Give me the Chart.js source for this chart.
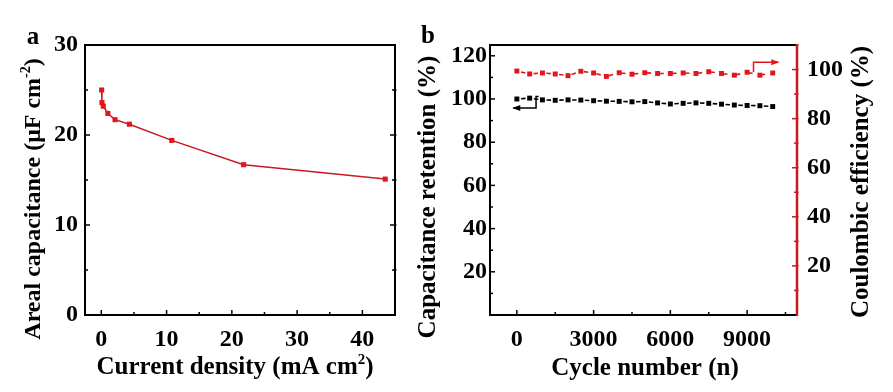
<!DOCTYPE html>
<html>
<head>
<meta charset="utf-8">
<script src="https://cdn.jsdelivr.net/npm/chart.js@4.4.0/dist/chart.umd.min.js"></script>
<style>
  html, body { margin: 0; padding: 0; background: #fff; }
  #wrap { position: relative; width: 893px; height: 392px; overflow: hidden; }
  #ca { position: absolute; left: 0; top: 0; }
  #cb { position: absolute; left: 410px; top: 0; }
</style>
</head>
<body>
<div id="wrap">
  <canvas id="ca" width="410" height="392"></canvas>
  <canvas id="cb" width="483" height="392"></canvas>
</div>
<script>
// panel a: rate capability
const currentDensity = [0.05, 0.1, 0.3, 1.0, 2.1, 4.3, 10.8, 21.8, 43.5];
const arealCap = [25.0, 23.6, 23.2, 22.4, 21.7, 21.2, 19.4, 16.7, 15.1];
const ticksAx = [0, 10, 20, 30, 40];
const ticksAy = [0, 10, 20, 30];

// panel b: cycling
const cycles = [0, 500, 1000, 1500, 2000, 2500, 3000, 3500, 4000, 4500, 5000,
                5500, 6000, 6500, 7000, 7500, 8000, 8500, 9000, 9500, 10000];
const retention = [100, 100.4, 99.6, 99.4, 99.6, 99.5, 99.2, 99.0, 98.9, 98.7, 98.8,
                   98.2, 97.7, 98.0, 98.2, 98.0, 97.6, 97.2, 97.0, 96.9, 96.5];
const coulombic = [99.4, 98.2, 98.6, 98.2, 97.5, 99.3, 98.6, 97.2, 98.7, 98.1, 98.7,
                   98.4, 98.4, 98.6, 98.4, 99.1, 98.4, 97.7, 98.9, 97.7, 98.6];
const ticksBx = [0, 3000, 6000, 9000];
const ticksBy = [20, 40, 60, 80, 100, 120];
const ticksBy2 = [20, 40, 60, 80, 100];

const RED = '#e0161e';
const DARKRED = '#c81a22';
const FONT = '"Liberation Serif", "Times New Roman", serif';

// minor ticks half way between majors, one step past each end
function minors(major, min, max) {
    const step = major[1] - major[0];
    const out = [];
    for (let v = major[0] - step / 2; v <= major[major.length - 1] + step / 2 + 1e-9; v += step) {
        if (v >= min - 1e-9 && v <= max + 1e-9) out.push(v);
    }
    return out;
}

function drawRich(ctx, parts, x, y, rot, size) {
    ctx.save();
    ctx.translate(x, y);
    ctx.rotate(rot);
    const big = `bold ${size}px ${FONT}`;
    const small = `bold ${Math.round(size * 0.6)}px ${FONT}`;
    let w = 0;
    parts.forEach(p => { ctx.font = p.sup ? small : big; p.w = ctx.measureText(p.t).width; w += p.w; });
    let cx = -w / 2;
    ctx.textBaseline = 'middle';
    ctx.fillStyle = '#000';
    parts.forEach(p => {
        ctx.font = p.sup ? small : big;
        ctx.fillText(p.t, cx, p.sup ? -size * 0.32 : 0);
        cx += p.w;
    });
    ctx.restore();
}

const frame = {
    id: 'frame',
    afterDraw(chart, args, opts) {
        const { ctx, chartArea: a } = chart;
        ctx.save();
        // tick marks, pointing into the plot
        opts.marks.forEach(m => {
            const s = chart.scales[m.axis];
            ctx.strokeStyle = m.color || '#000';
            ctx.lineWidth = 1.5;
            [[m.major, 5], [m.minor, 3]].forEach(([vals, len]) => {
                vals.forEach(v => {
                    const p = s.getPixelForValue(v);
                    ctx.beginPath();
                    if (m.side === 'bottom') { ctx.moveTo(p, a.bottom); ctx.lineTo(p, a.bottom - len); }
                    else if (m.side === 'left') { ctx.moveTo(a.left, p); ctx.lineTo(a.left + len, p); }
                    else { ctx.moveTo(a.right + 1.5, p); ctx.lineTo(a.right - len, p); }
                    ctx.stroke();
                });
            });
        });
        // box
        ctx.lineWidth = 2;
        ctx.strokeStyle = '#000';
        ctx.strokeRect(a.left, a.top, a.right - a.left, a.bottom - a.top);
        if (opts.rightColor) {
            ctx.strokeStyle = opts.rightColor;
            ctx.lineWidth = 2.5;
            ctx.beginPath();
            ctx.moveTo(a.right, a.top - 1);
            ctx.lineTo(a.right, a.bottom + 1);
            ctx.stroke();
        }
        // arrows
        (opts.arrows || []).forEach(ar => {
            const xs = chart.scales.x, ys = chart.scales[ar.axis];
            const pts = ar.pts.map(([vx, vy]) => [xs.getPixelForValue(vx), ys.getPixelForValue(vy)]);
            ctx.strokeStyle = ar.color;
            ctx.fillStyle = ar.color;
            ctx.lineWidth = 1.5;
            ctx.beginPath();
            pts.forEach(([px, py], i) => i ? ctx.lineTo(px, py) : ctx.moveTo(px, py));
            ctx.stroke();
            const [x1, y1] = pts[pts.length - 2], [x2, y2] = pts[pts.length - 1];
            const ang = Math.atan2(y2 - y1, x2 - x1);
            ctx.save();
            ctx.translate(x2, y2);
            ctx.rotate(ang);
            ctx.beginPath();
            ctx.moveTo(1, 0);
            ctx.lineTo(-7, -3);
            ctx.lineTo(-7, 3);
            ctx.closePath();
            ctx.fill();
            ctx.restore();
        });
        // texts
        (opts.texts || []).forEach(t => drawRich(ctx, t.parts, t.x, t.y, t.rot || 0, t.size));
        ctx.restore();
    }
};

const tickFont = { family: FONT, size: 24, weight: 'bold' };
const setTicks = arr => s => { s.ticks = arr.map(v => ({ value: v })); };
const plain = v => String(v);

// ---- panel a ----
new Chart(document.getElementById('ca'), {
    type: 'line',
    data: {
        datasets: [{
            data: currentDensity.map((x, i) => ({ x, y: arealCap[i] })),
            borderColor: DARKRED,
            borderWidth: 1.5,
            backgroundColor: RED,
            pointBackgroundColor: RED,
            pointBorderWidth: 0,
            pointStyle: 'rect',
            pointRadius: 3.6,
            tension: 0
        }]
    },
    options: {
        responsive: false,
        animation: false,
        events: [],
        layout: { padding: { top: 45, right: 15, left: 0, bottom: 0 } },
        plugins: {
            legend: { display: false },
            tooltip: { enabled: false },
            frame: {
                marks: [
                    { axis: 'x', side: 'bottom', major: ticksAx, minor: minors(ticksAx, -2.5, 44) },
                    { axis: 'y', side: 'left', major: ticksAy, minor: minors(ticksAy, 1, 29) },
                    { axis: 'y', side: 'right', major: ticksAy.slice(1, -1), minor: minors(ticksAy, 1, 29) }
                ],
                texts: [
                    { parts: [{ t: 'a' }], x: 33, y: 38, size: 25 },
                    { parts: [{ t: 'Areal capacitance (μF cm' }, { t: '-2', sup: true }, { t: ')' }],
                      x: 34, y: 199, rot: -Math.PI / 2, size: 24 },
                    { parts: [{ t: 'Current density (mA cm' }, { t: '2', sup: true }, { t: ')' }],
                      x: 235, y: 368, size: 25 }
                ]
            }
        },
        scales: {
            x: {
                type: 'linear', min: -2.5, max: 45,
                afterBuildTicks: setTicks(ticksAx),
                afterFit: s => { s.height = 77; },
                grid: { display: false, drawTicks: false },
                border: { display: false },
                ticks: { font: tickFont, color: '#000', padding: 10, maxRotation: 0, callback: plain }
            },
            y: {
                min: 0, max: 30,
                afterBuildTicks: setTicks(ticksAy),
                afterFit: s => { s.width = 85; },
                grid: { display: false, drawTicks: false },
                border: { display: false },
                ticks: { font: tickFont, color: '#000', padding: 7, callback: plain }
            }
        }
    },
    plugins: [frame]
});

// ---- panel b ----
new Chart(document.getElementById('cb'), {
    type: 'line',
    data: {
        datasets: [{
            data: cycles.map((x, i) => ({ x, y: retention[i] })),
            yAxisID: 'y',
            borderColor: '#000',
            borderWidth: 1.6,
            borderDash: [4.5, 8.3],
            borderDashOffset: 8.6,
            pointBackgroundColor: '#000',
            pointBorderWidth: 0,
            pointStyle: 'rect',
            pointRadius: 3.5
        }, {
            data: cycles.map((x, i) => ({ x, y: coulombic[i] })),
            yAxisID: 'y2',
            borderColor: RED,
            borderWidth: 1.6,
            borderDash: [4.5, 8.3],
            borderDashOffset: 8.6,
            pointBackgroundColor: RED,
            pointBorderWidth: 0,
            pointStyle: 'rect',
            pointRadius: 3.5
        }]
    },
    options: {
        responsive: false,
        animation: false,
        events: [],
        layout: { padding: { top: 45, right: 0, left: 0, bottom: 0 } },
        plugins: {
            legend: { display: false },
            tooltip: { enabled: false },
            frame: {
                rightColor: DARKRED,
                marks: [
                    { axis: 'x', side: 'bottom', major: ticksBx, minor: minors(ticksBx, -1000, 10900) },
                    { axis: 'y', side: 'left', major: ticksBy, minor: minors(ticksBy, 1, 124) },
                    { axis: 'y2', side: 'right', major: ticksBy2, minor: minors(ticksBy2, 1, 110), color: DARKRED }
                ],
                arrows: [
                    { axis: 'y', color: '#000', pts: [[850, 101.2], [750, 101.2], [750, 95.8], [-140, 95.8]] },
                    { axis: 'y2', color: RED, pts: [[9250, 98.9], [9250, 103], [10220, 103]] }
                ],
                texts: [
                    { parts: [{ t: 'b' }], x: 18, y: 37, size: 25 },
                    { parts: [{ t: 'Capacitance retention (%)' }], x: 19, y: 197, rot: -Math.PI / 2, size: 25 },
                    { parts: [{ t: 'Coulombic efficiency (%)' }], x: 452, y: 182, rot: -Math.PI / 2, size: 25 },
                    { parts: [{ t: 'Cycle number (n)' }], x: 235, y: 369, size: 25 }
                ]
            }
        },
        scales: {
            x: {
                type: 'linear', min: -1050, max: 10950,
                afterBuildTicks: setTicks(ticksBx),
                afterFit: s => { s.height = 77; },
                grid: { display: false, drawTicks: false },
                border: { display: false },
                ticks: { font: tickFont, color: '#000', padding: 10, maxRotation: 0, callback: plain }
            },
            y: {
                position: 'left', min: 0, max: 125,
                afterBuildTicks: setTicks(ticksBy),
                afterFit: s => { s.width = 80; },
                grid: { display: false, drawTicks: false },
                border: { display: false },
                ticks: { font: tickFont, color: '#000', padding: 3, callback: plain }
            },
            y2: {
                position: 'right', min: 0, max: 110,
                afterBuildTicks: setTicks(ticksBy2),
                afterFit: s => { s.width = 96; },
                grid: { display: false, drawTicks: false },
                border: { display: false },
                ticks: { font: tickFont, color: '#000', padding: 10, callback: plain }
            }
        }
    },
    plugins: [frame]
});
</script>
</body>
</html>
